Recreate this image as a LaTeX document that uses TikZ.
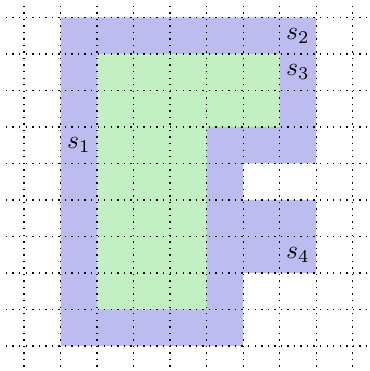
\documentclass[tikz,border=0pt]{standalone}
\definecolor{regblue}{RGB}{188,188,240}
\definecolor{reggreen}{RGB}{194,240,194}
\tikzset{
  gridline/.style={dotted, line width=0.55pt, black},
  lbl/.style={inner sep=0pt}
}
\begin{document}
\begin{tikzpicture}[x=0.5cm,y=0.5cm]
\useasboundingbox (-0.663,-0.685) rectangle (9.447,9.479);
\clip (-0.663,-0.685) rectangle (9.447,9.479);
\fill[regblue] (1,0) -- (6,0) -- (6,2) -- (8,2) -- (8,4) -- (6,4) -- (6,5) -- (8,5) -- (8,9) -- (1,9) -- cycle;
\fill[reggreen] (2,1) -- (5,1) -- (5,6) -- (7,6) -- (7,8) -- (2,8) -- cycle;
\draw[gridline, step=1] (-0.5,-0.75) grid (9.5,9.5);
\node[lbl] (s1) at (1.5,5.5) {$s_1$};
\node[lbl] (s2) at (7.5,8.5) {$s_2$};
\node[lbl] (s3) at (7.5,7.5) {$s_3$};
\node[lbl] (s4) at (7.5,2.5) {$s_4$};
\end{tikzpicture}
\end{document}
